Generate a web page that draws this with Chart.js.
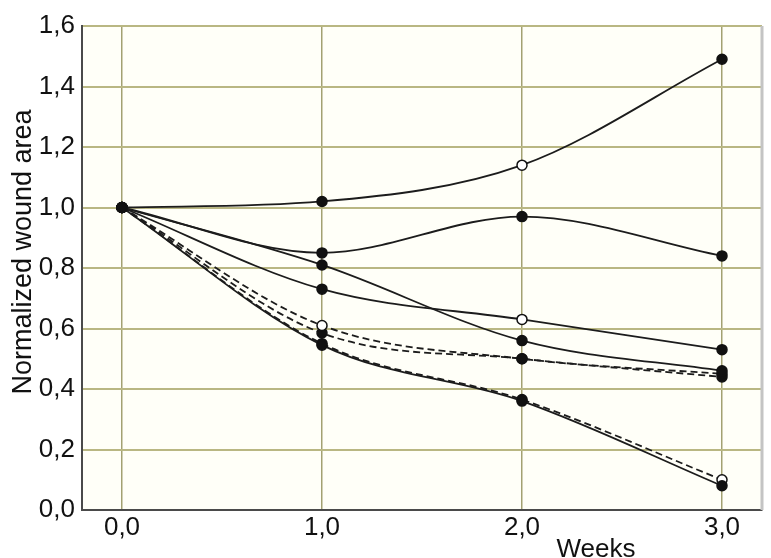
<!DOCTYPE html>
<html>
<head>
<meta charset="utf-8">
<script src="https://cdn.jsdelivr.net/npm/chart.js@4.4.1/dist/chart.umd.min.js"></script>
<style>
  body { margin: 0; background: #ffffff; }
  #wrap { width: 771px; height: 558px; }
</style>
</head>
<body>
<div id="wrap"><canvas id="grafico" width="771" height="558"></canvas></div>
<script>
// weeks on the x axis, normalized wound area per group
const weeks = [0, 1, 2, 3];
const yTicks = [0, 0.2, 0.4, 0.6, 0.8, 1.0, 1.2, 1.4, 1.6];

const groupA = [1.0, 1.02, 1.14, 1.49];
const groupB = [1.0, 0.85, 0.97, 0.84];
const groupC = [1.0, 0.81, 0.56, 0.46];
const groupD = [1.0, 0.73, 0.63, 0.53];
const groupE = [1.0, 0.61, 0.50, 0.45];
const groupF = [1.0, 0.585, 0.50, 0.44];
const groupG = [1.0, 0.545, 0.36, 0.08];
const groupH = [1.0, 0.55, 0.365, 0.10];

const FONT = "Arial, 'Liberation Sans', sans-serif";
const fmt = v => Number(v).toFixed(1).replace('.', ',');

function pts(vals) {
    return weeks.map((w, i) => ({ x: w, y: vals[i] }));
}

function line(vals, dash, openIdx) {
    return {
        data: pts(vals),
        borderColor: '#1c1c1c',
        borderWidth: 1.8,
        borderDash: dash,
        pointRadius: 5,
        pointHoverRadius: 5,
        pointBorderColor: '#111',
        pointBorderWidth: 1.5,
        pointBackgroundColor: vals.map((v, i) => openIdx.includes(i) ? '#ffffff' : '#111'),
        tension: 0.4,
        cubicInterpolationMode: 'monotone',
        fill: false
    };
}

const frame = {
    id: 'frame',
    beforeDraw(chart) {
        const { ctx, chartArea: a } = chart;
        ctx.save();
        ctx.fillStyle = '#fffff8';
        ctx.fillRect(a.left, a.top, a.right - a.left, a.bottom - a.top);
        ctx.restore();
    },
    afterDraw(chart) {
        const { ctx, chartArea: a } = chart;
        ctx.save();
        ctx.strokeStyle = '#c4c4c4';
        ctx.lineWidth = 3;
        ctx.beginPath();
        ctx.moveTo(a.right, a.top);
        ctx.lineTo(a.right, a.bottom);
        ctx.stroke();

        ctx.fillStyle = '#111';
        ctx.font = '27px ' + FONT;
        ctx.textAlign = 'center';
        ctx.textBaseline = 'middle';
        ctx.save();
        ctx.translate(24, 252);
        ctx.rotate(-Math.PI / 2);
        ctx.fillText('Normalized wound area', 0, 0);
        ctx.restore();
        ctx.font = '26px ' + FONT;
        ctx.textBaseline = 'alphabetic';
        ctx.fillText('Weeks', 596, 557);
        ctx.restore();
    }
};

new Chart(document.getElementById('grafico').getContext('2d'), {
    type: 'line',
    data: {
        datasets: [
            line(groupA, [], [2]),
            line(groupB, [], []),
            line(groupC, [], []),
            line(groupD, [], [2]),
            line(groupE, [7, 4], [1]),
            line(groupF, [7, 4], []),
            line(groupG, [], []),
            line(groupH, [7, 4], [3])
        ]
    },
    options: {
        responsive: false,
        animation: false,
        layout: { padding: { top: 26, right: 9, left: 0, bottom: 0 } },
        plugins: {
            legend: { display: false },
            tooltip: { enabled: false }
        },
        scales: {
            x: {
                type: 'linear',
                min: -0.2,
                max: 3.2,
                afterBuildTicks: s => { s.ticks = weeks.map(v => ({ value: v })); },
                afterFit: s => { s.height = 48; },
                grid: { color: '#a3a172', lineWidth: 1.5, drawTicks: false },
                border: { color: '#4a4a4a', width: 2 },
                ticks: {
                    padding: 2,
                    color: '#111',
                    font: { size: 26, family: FONT },
                    callback: v => fmt(v)
                }
            },
            y: {
                min: 0,
                max: 1.6,
                afterBuildTicks: s => { s.ticks = yTicks.map(v => ({ value: v })); },
                afterFit: s => { s.width = 82; },
                grid: { color: '#b9b783', lineWidth: 2, drawTicks: false },
                border: { color: '#4a4a4a', width: 2 },
                ticks: {
                    padding: 7,
                    color: '#111',
                    font: { size: 26, family: FONT },
                    callback: v => fmt(v)
                }
            }
        }
    },
    plugins: [frame]
});
</script>
</body>
</html>
